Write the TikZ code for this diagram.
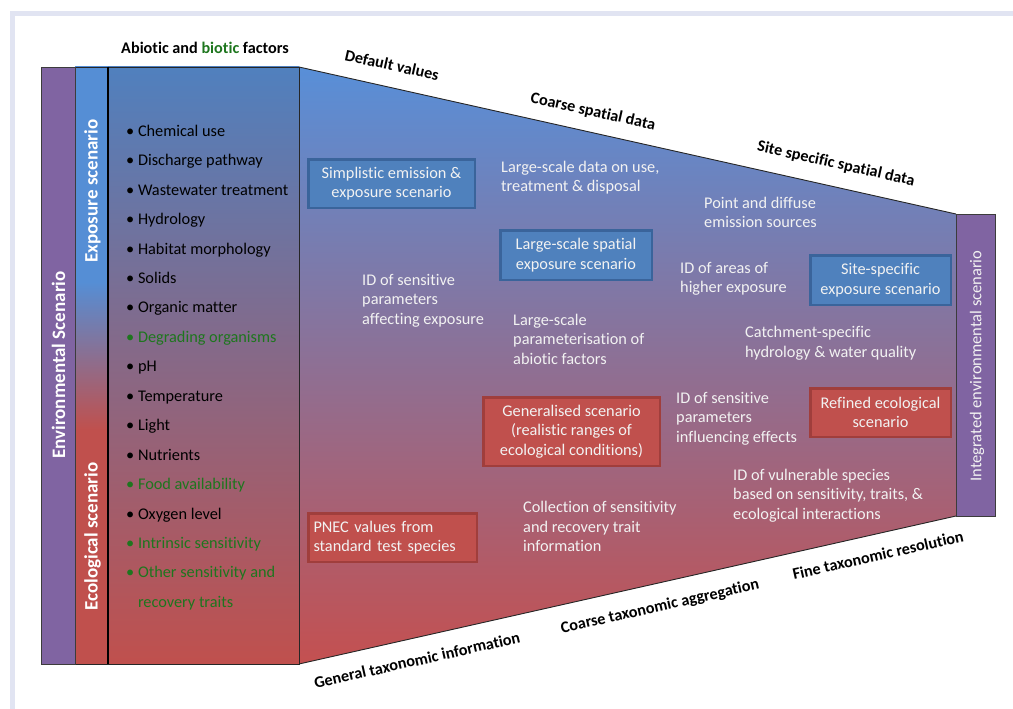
\documentclass[tikz,border=0pt]{standalone}
\usepackage{fontspec}
\setmainfont{Carlito}[Ligatures=NoCommon]
\definecolor{framecol}{RGB}{225,228,242}
\definecolor{funtop}{RGB}{88,143,216}
\definecolor{funmid}{RGB}{158,118,168}
\definecolor{funbot}{RGB}{196,80,80}
\definecolor{facttop}{RGB}{80,128,190}
\definecolor{factmid}{RGB}{145,108,155}
\definecolor{factbot}{RGB}{192,80,77}
\definecolor{expblue}{RGB}{85,142,213}
\definecolor{ecored}{RGB}{192,80,77}
\definecolor{envpurple}{RGB}{128,100,162}
\definecolor{bardark}{RGB}{60,60,60}
\definecolor{boxblue}{RGB}{79,129,189}
\definecolor{boxblueb}{RGB}{58,100,155}
\definecolor{boxred}{RGB}{192,80,77}
\definecolor{boxredb}{RGB}{160,62,60}
\definecolor{bgreen}{RGB}{30,118,30}
\definecolor{softwhite}{RGB}{242,242,242}
\pgfdeclareverticalshading{expbar}{100bp}{color(0bp)=(ecored); color(44.6bp)=(ecored); color(57bp)=(expblue); color(100bp)=(expblue)}
\begin{document}
\begin{tikzpicture}[x=1pt,y=-1pt,
  bluebox/.style={draw=boxblueb, fill=boxblue, line width=2.5pt, text=softwhite,
    font=\fontsize{16.3}{19.5}\selectfont, align=center, inner sep=0pt},
  redbox/.style={draw=boxredb, fill=boxred, line width=2.5pt, text=softwhite,
    font=\fontsize{16.3}{19.5}\selectfont, align=center, inner sep=0pt},
  freetext/.style={text=softwhite, font=\fontsize{16.3}{19.5}\selectfont, align=left,
    inner sep=0pt, anchor=west},
  slantlabel/.style={font=\bfseries\fontsize{16.2}{18}\selectfont, inner sep=0pt},
  purplebar/.style={draw=bardark, fill=envpurple, line width=0.8pt, inner sep=0pt},
  bartext/.style={text=white, font=\bfseries\fontsize{19}{21}\selectfont, inner sep=0pt, rotate=90},
  edgeline/.style={draw=black!85, line width=0.9pt}
]
\useasboundingbox (0,0) rectangle (1013,709);
% outer frame
\fill[framecol] (10,11) rectangle (1013,16);
\fill[framecol] (10,11) rectangle (15,709);

% funnel
\coordinate (ftl) at (299,67);
\coordinate (ftr) at (956,214);
\coordinate (fbr) at (956,516);
\coordinate (fbl) at (299,664);
\path[top color=funtop, middle color=funmid, bottom color=funbot]
  (ftl) -- (ftr) -- (fbr) -- (fbl) -- cycle;
\draw[edgeline] (ftl) -- (ftr);
\draw[edgeline] (fbl) -- (fbr);

% factors box
\path[top color=facttop, middle color=factmid, bottom color=factbot]
  (108,67) rectangle (299,664);
\draw[edgeline] (108,67) rectangle (299,664);

% exposure / ecological bar
\path[shading=expbar] (75,67) rectangle (108,664);
\draw[edgeline] (75,67) rectangle (108,664);
\draw[black, line width=1.8pt] (108,67) -- (108,664);

% environmental scenario bar
\node[purplebar, minimum width=34pt, minimum height=597pt] (envbar) at (58,365.5) {};
\node[bartext] (envtext) at (58.5,365) {Environmental Scenario};
\node[bartext] (exptext) at (92.5,191) {Exposure scenario};
\node[bartext] (ecotext) at (92.5,536.5) {Ecological scenario};

% integrated bar
\node[purplebar, minimum width=39pt, minimum height=302pt] (intbar) at (976,365) {};
\node[text=softwhite, font=\fontsize{16.5}{18}\selectfont, rotate=90, inner sep=0pt] (inttext) at (977,366) {Integrated environmental scenario};

% header
\node[font=\bfseries\fontsize{16.2}{18}\selectfont, inner sep=0pt] (header) at (205,48)
  {Abiotic and {\color{bgreen}biotic} factors};

% factor list
\node[anchor=west, align=left, inner sep=0pt, font=\fontsize{16.3}{29.44}\selectfont] (factors) at (126,367.5)
  {• Chemical use\\
   • Discharge pathway\\
   • Wastewater treatment\\
   • Hydrology\\
   • Habitat morphology\\
   • Solids\\
   • Organic matter\\
   {\color{bgreen}• Degrading organisms}\\
   • pH\\
   • Temperature\\
   • Light\\
   • Nutrients\\
   {\color{bgreen}• Food availability}\\
   • Oxygen level\\
   {\color{bgreen}• Intrinsic sensitivity}\\
   {\color{bgreen}• Other sensitivity and}\\
   {\color{bgreen}\hphantom{•\ }recovery traits}};

% boxes
\node[bluebox, minimum width=166.5pt, minimum height=48.5pt] (simplistic) at (391.5,183.5)
  {Simplistic emission \&\\exposure scenario};
\node[bluebox, minimum width=151.5pt, minimum height=49.5pt] (lsspatial) at (576,255)
  {Large-scale spatial\\exposure scenario};
\node[bluebox, minimum width=140.5pt, minimum height=49.5pt] (sitespec) at (880.5,280)
  {Site-specific\\exposure scenario};
\node[redbox, minimum width=176.5pt, minimum height=68.5pt] (generalised) at (571.5,431.5)
  {Generalised scenario\\(realistic ranges of\\ecological conditions)};
\node[redbox, minimum width=140.5pt, minimum height=48.5pt] (refined) at (880.5,412.5)
  {Refined ecological\\scenario};
\node[redbox, minimum width=168.5pt, minimum height=48.5pt, align=left, text width=158pt] (pnec) at (392.5,537.5)
  {PNEC values from\\standard test species};

% free texts
\node[freetext] (lsdata) at (501,177.5) {Large-scale data on use,\\treatment \& disposal};
\node[freetext] (pointdiff) at (704,212.5) {Point and diffuse\\emission sources};
\node[freetext] (idsens1) at (362,300.5) {ID of sensitive\\parameters\\affecting exposure};
\node[freetext] (idareas) at (680,279) {ID of areas of\\higher exposure};
\node[freetext] (lsparam) at (513,339) {Large-scale\\parameterisation of\\abiotic factors};
\node[freetext] (catch) at (745,343) {Catchment-specific\\hydrology \& water quality};
\node[freetext] (idsens2) at (676,418.5) {ID of sensitive\\parameters\\influencing effects};
\node[freetext] (idvuln) at (733,495.5) {ID of vulnerable species\\based on sensitivity, traits, \&\\ecological interactions};
\node[freetext] (collect) at (523,526.5) {Collection of sensitivity\\and recovery trait\\information};

% slanted labels
\node[slantlabel, rotate=-12.6] (defval) at (392,65) {Default values};
\node[slantlabel, rotate=-12.6] (coarsesp) at (593,112) {Coarse spatial data};
\node[slantlabel, rotate=-12.6] (sitesp) at (836,164) {Site specific spatial data};
\node[slantlabel, rotate=12.7] (gentax) at (417,660) {General taxonomic information};
\node[slantlabel, rotate=12.7] (coarsetax) at (660,607) {Coarse taxonomic aggregation};
\node[slantlabel, rotate=12.7] (finetax) at (878,555) {Fine taxonomic resolution};
\end{tikzpicture}
\end{document}
